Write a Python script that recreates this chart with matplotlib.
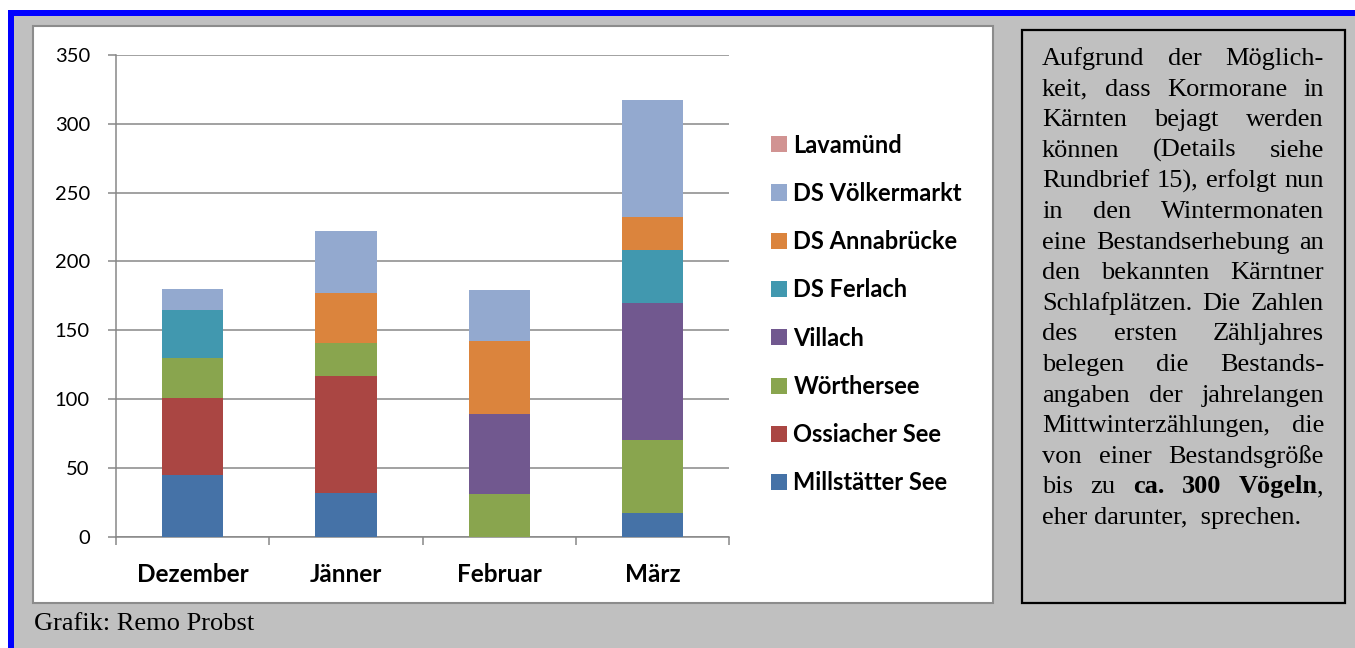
import matplotlib
matplotlib.use("Agg")
import matplotlib.pyplot as plt
from matplotlib.patches import Rectangle
import numpy as np

W, H = 1355, 648

months = ["Dezember", "Jänner", "Februar", "März"]
series = ["Millstätter See", "Ossiacher See", "Wörthersee", "Villach",
          "DS Ferlach", "DS Annabrücke", "DS Völkermarkt", "Lavamünd"]
millstaetter = [45, 32, 0, 17]
ossiacher = [56, 85, 0, 0]
woerthersee = [29, 24, 31, 53]
villach = [0, 0, 58, 100]
ferlach = [35, 0, 0, 38]
annabruecke = [0, 36, 53, 24]
voelkermarkt = [15, 45, 37, 85]
lavamuend = [0, 0, 0, 0]
values = [millstaetter, ossiacher, woerthersee, villach,
          ferlach, annabruecke, voelkermarkt, lavamuend]
colors = ["#4572A7", "#AA4643", "#89A54E", "#71588F",
          "#4198AF", "#DB843D", "#93A9CF", "#D19392"]

box_lines = [
    [("Aufgrund", 0), ("der", 0), ("Möglich-", 0)],
    [("keit,", 0), ("dass", 0), ("Kormorane", 0), ("in", 0)],
    [("Kärnten", 0), ("bejagt", 0), ("werden", 0)],
    [("können", 0), ("(Details", 0), ("siehe", 0)],
    [("Rundbrief", 0), ("15),", 0), ("erfolgt", 0), ("nun", 0)],
    [("in", 0), ("den", 0), ("Wintermonaten", 0)],
    [("eine", 0), ("Bestandserhebung", 0), ("an", 0)],
    [("den", 0), ("bekannten", 0), ("Kärntner", 0)],
    [("Schlafplätzen.", 0), ("Die", 0), ("Zahlen", 0)],
    [("des", 0), ("ersten", 0), ("Zähljahres", 0)],
    [("belegen", 0), ("die", 0), ("Bestands-", 0)],
    [("angaben", 0), ("der", 0), ("jahrelangen", 0)],
    [("Mittwinterzählungen,", 0), ("die", 0)],
    [("von", 0), ("einer", 0), ("Bestandsgröße", 0)],
    [("bis", 0), ("zu", 0), ("ca.", 1), ("300", 1), ("Vögeln", 1)],
]
last_line = "eher darunter,  sprechen."
credit = "Grafik: Remo Probst"


def fx(px):
    return px / W


def fy(py):
    return 1 - py / H


fig = plt.figure(figsize=(W / 100, H / 100), dpi=100, facecolor="#C0C0C0")

# white margin, blue frame
fig.patches.append(Rectangle((0, fy(10)), 1, 10 / H, transform=fig.transFigure,
                             facecolor="white", edgecolor="none", zorder=-3))
fig.patches.append(Rectangle((0, 0), fx(8), 1, transform=fig.transFigure,
                             facecolor="white", edgecolor="none", zorder=-3))
fig.patches.append(Rectangle((fx(8), fy(16)), 1, 6 / H, transform=fig.transFigure,
                             facecolor="#0000FF", edgecolor="none", zorder=-2))
fig.patches.append(Rectangle((fx(8), 0), 6 / W, fy(10), transform=fig.transFigure,
                             facecolor="#0000FF", edgecolor="none", zorder=-2))

# chart panel
fig.patches.append(Rectangle((fx(33), fy(603)), (993 - 33) / W, (603 - 26) / H,
                             transform=fig.transFigure, facecolor="white",
                             edgecolor="#8C8C8C", linewidth=1.5, zorder=-1))
# text box
fig.patches.append(Rectangle((fx(1022), fy(603)), (1345 - 1022) / W, (603 - 30) / H,
                             transform=fig.transFigure, facecolor="#C0C0C0",
                             edgecolor="black", linewidth=1.6, zorder=-1))

ax = fig.add_axes([fx(116), fy(536.7), (729.5 - 116) / W, (536.7 - 55) / H])
ax.set_facecolor("none")
ax.set_zorder(2)

x = np.arange(len(months))
bottom = np.zeros(len(months))
handles = []
for name, vals, c in zip(series, values, colors):
    b = ax.bar(x, vals, width=0.4, bottom=bottom, color=c, label=name, zorder=3)
    handles.append(b)
    bottom += np.array(vals)

ax.set_xlim(-0.5, len(months) - 0.5)
ax.set_ylim(0, 350)
ax.set_yticks(range(0, 351, 50))
ax.yaxis.grid(True, color="#878787", linewidth=1.1)
ax.set_axisbelow(True)
for s in ["top", "right"]:
    ax.spines[s].set_visible(False)
for s in ["left", "bottom"]:
    ax.spines[s].set_color("#878787")
    ax.spines[s].set_linewidth(1.1)

ax.set_xticks(x)
ax.set_xticklabels(months, fontfamily="Lato", fontweight="bold", fontsize=17.5)
ax.set_xticks(np.arange(-0.5, len(months)), minor=True)
ax.tick_params(axis="x", which="major", length=0, pad=19)
ax.tick_params(axis="x", which="minor", length=5.5, color="#878787", width=1.1)
ax.tick_params(axis="y", length=5.8, color="#878787", width=1.1, pad=13,
               labelsize=14.5)
for lab in ax.get_yticklabels():
    lab.set_fontfamily("Lato")

leg = ax.legend(handles[::-1], series[::-1], loc="center left",
                bbox_to_anchor=(fx(771), fy(314)), bbox_transform=fig.transFigure,
                frameon=False, prop={"family": "Lato", "weight": "bold", "size": 17},
                handlelength=0.68, handleheight=0.68, handletextpad=0.27,
                labelspacing=1.07, borderpad=0, borderaxespad=0)

# justified text in the box
fig.canvas.draw()
renderer = fig.canvas.get_renderer()
left_px, right_px = 1042, 1324
fsize = 19
line0, pitch = 65, 30.6

for i, words in enumerate(box_lines):
    base = line0 + i * pitch
    items = []
    for w, bold in words:
        if w == "Vögeln":
            parts = [("Vögeln", 1), (",", 0)]
        else:
            parts = [(w, bold)]
        texts = []
        for p, bd in parts:
            t = fig.text(0, fy(base), p, fontsize=fsize, fontfamily="Liberation Serif",
                         fontweight="bold" if bd else "normal", va="baseline",
                         ha="left", zorder=5)
            texts.append(t)
        items.append(texts)
    widths = [[t.get_window_extent(renderer).width for t in texts] for texts in items]
    total = sum(sum(ws) for ws in widths)
    gap = (right_px - left_px - total) / (len(items) - 1)
    cur = left_px
    for texts, ws in zip(items, widths):
        for t, wdt in zip(texts, ws):
            t.set_x(fx(cur))
            cur += wdt
        cur += gap

fig.text(fx(left_px), fy(line0 + 15 * pitch), last_line, fontsize=fsize,
         fontfamily="Liberation Serif", va="baseline", ha="left", zorder=5)

fig.text(fx(34), fy(630), credit, fontsize=fsize, fontfamily="Liberation Serif",
         va="baseline", ha="left", zorder=5)

fig.savefig("out.png", dpi=100, facecolor=fig.get_facecolor())
